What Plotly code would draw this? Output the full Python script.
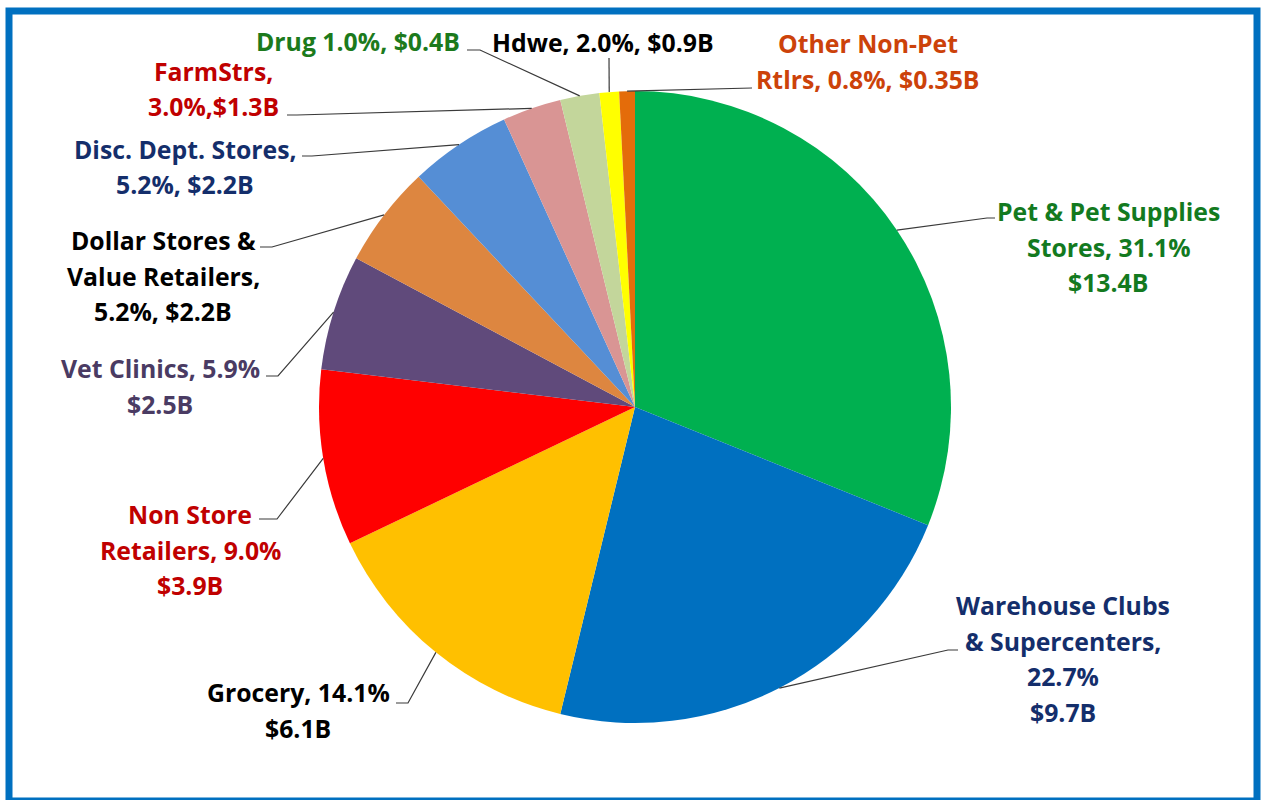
import math
import plotly.graph_objects as go

# ---------------- data ----------------
categories = ["Pet & Pet Supplies Stores", "Warehouse Clubs & Supercenters", "Grocery",
              "Non Store Retailers", "Vet Clinics", "Dollar Stores & Value Retailers",
              "Disc. Dept. Stores", "FarmStrs", "Hdwe", "Drug", "Other Non-Pet Rtlrs"]
share_pct = [31.1, 22.7, 14.1, 9.0, 5.9, 5.2, 5.2, 3.0, 2.0, 1.0, 0.8]
sales_bil = [13.4, 9.7, 6.1, 3.9, 2.5, 2.2, 2.2, 1.3, 0.9, 0.4, 0.35]
label_lines = [
    ["Pet & Pet Supplies", "Stores, 31.1%", "$13.4B"],
    ["Warehouse Clubs", "& Supercenters,", "22.7%", "$9.7B"],
    ["Grocery, 14.1%", "$6.1B"],
    ["Non Store", "Retailers, 9.0%", "$3.9B"],
    ["Vet Clinics, 5.9%", "$2.5B"],
    ["Dollar Stores &", "Value Retailers,", "5.2%, $2.2B"],
    ["Disc. Dept. Stores,", "5.2%, $2.2B"],
    ["FarmStrs,", "3.0%,$1.3B"],
    ["Hdwe, 2.0%, $0.9B"],
    ["Drug 1.0%, $0.4B"],
    ["Other Non-Pet", "Rtlrs, 0.8%, $0.35B"],
]

# ---------------- style / layout ----------------
slice_colors = ["#00B050", "#0070C0", "#FFC000", "#FF0000", "#604A7B", "#DD8640",
                "#558ED5", "#D99594", "#C3D69B", "#FFFF00", "#E46C0A"]
text_colors = ["#137A1F", "#142E6B", "#000000", "#C00000", "#4A3B63", "#000000",
               "#142E6B", "#C00000", "#000000", "#1C7A1C", "#CC420A"]
# label block: centre x, first-line y (pixels)
label_pos = [(1108, 211), (1063, 605), (298, 692), (190, 514), (160, 368), (163, 240),
             (185, 149), (213, 71), (603, 42), (358, 41), (868, 43), ]
# leader line: elbow point and end point next to text (pixels)
leader_pts = [((987, 218), (995, 218)), ((948, 650), (958, 650)), ((408, 703), (396, 703)),
              ((277, 519), (259, 519)), ((278, 376), (266, 376)), ((272, 247), (260, 247)),
              ((312, 156), (302, 156)), ((297, 115), (287, 115)), ((609, 58), (609, 58)),
              ((480, 50), (467, 50)), ((752, 88), (752, 88))]
leader_slice = [0, 1, 2, 3, 4, 5, 6, 7, 9, 8, 10]

W, H = 1267, 800
CX, CY, R = 635, 407, 316
LINE_H = 35.5


def px(x):
    return x / W


def py(y):
    return 1 - y / H


fig = go.Figure(go.Pie(
    labels=categories, values=share_pct, customdata=sales_bil,
    sort=False, direction="clockwise", rotation=0,
    marker=dict(colors=slice_colors, line=dict(width=0)),
    textinfo="none", showlegend=False,
    hovertemplate="%{label}: %{value}%, $%{customdata}B<extra></extra>",
    domain=dict(x=[px(CX - R), px(CX + R)], y=[py(CY + R), py(CY - R)]),
))

total = sum(share_pct)
cum = []
c = 0
for v in share_pct:
    cum.append((c + v / 2) / total)
    c += v

shapes = []
annotations = []
for i, lines in enumerate(label_lines):
    cx, y0 = label_pos[i]
    for k, t in enumerate(lines):
        annotations.append(dict(
            x=px(cx), y=py(y0 + k * LINE_H), xref="paper", yref="paper",
            text="<b>" + t + "</b>", showarrow=False, xanchor="center", yanchor="middle",
            font=dict(family="Open Sans", size=24.8, color=text_colors[i])))
    a = 2 * math.pi * cum[leader_slice[i]]
    ax, ay = CX + R * math.sin(a), CY - R * math.cos(a)
    (ex, ey), (tx, ty) = leader_pts[i]
    path = f"M {px(ax)},{py(ay)} L {px(ex)},{py(ey)} L {px(tx)},{py(ty)}"
    shapes.append(dict(type="path", path=path, xref="paper", yref="paper",
                       line=dict(color="#3A3A3A", width=1.2)))

shapes.append(dict(type="rect", xref="paper", yref="paper",
                   x0=px(9), x1=px(1257), y0=py(801), y1=py(11),
                   line=dict(color="#0070C0", width=7), fillcolor="rgba(0,0,0,0)"))

fig.update_layout(
    width=W, height=H, autosize=False,
    margin=dict(l=0, r=0, t=0, b=0),
    paper_bgcolor="white", plot_bgcolor="white",
    shapes=shapes, annotations=annotations,
)

fig.write_html("out.html")
